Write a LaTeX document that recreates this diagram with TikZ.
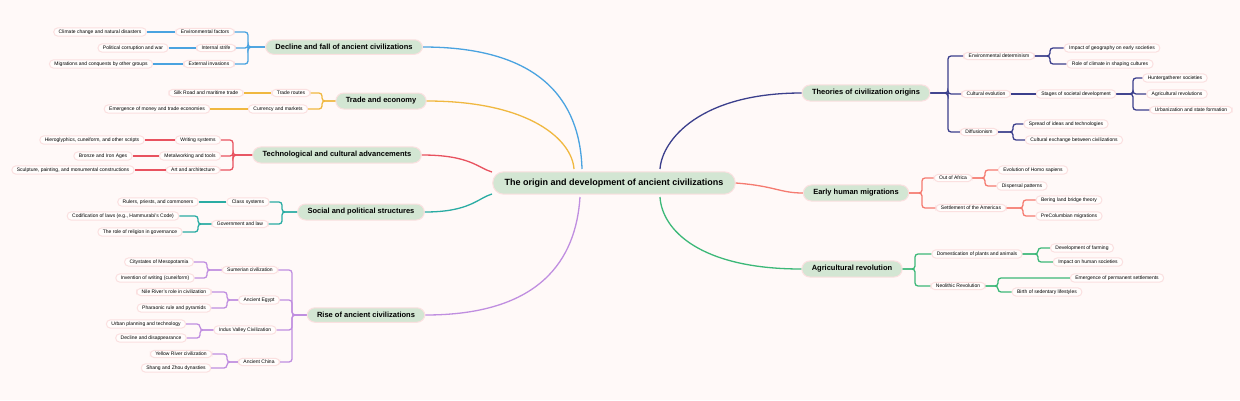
\documentclass[tikz,border=0pt]{standalone}
\usepackage{fontspec}
\setmainfont{Liberation Sans}
\definecolor{bgc}{HTML}{FFF9F8}
\definecolor{edgec}{HTML}{FBE0E0}
\definecolor{topc}{HTML}{D3E6D3}
\definecolor{cdec}{HTML}{4AA3E0}
\definecolor{ctrd}{HTML}{F0B840}
\definecolor{ctec}{HTML}{E8525F}
\definecolor{csoc}{HTML}{2AACA3}
\definecolor{cris}{HTML}{C08EE0}
\definecolor{cthe}{HTML}{3B3F8C}
\definecolor{cear}{HTML}{F57B70}
\definecolor{cagr}{HTML}{3CB878}
\tikzset{
  leaf/.style={draw=edgec, fill=white!60!bgc, line width=1pt, rounded corners=4pt,
    font=\fontsize{5}{6}\selectfont, inner xsep=5pt, inner ysep=1.8pt},
  topic/.style={draw=edgec, fill=topc, line width=1pt, rounded corners=8pt,
    font=\fontsize{7.5}{9}\selectfont\bfseries, inner xsep=10pt, inner ysep=4.5pt},
  link/.style={line width=1.3pt, rounded corners=3pt}
}
% bracket from parent to child, left and right side
\newcommand{\brl}[4]{\draw[link,#1] (#2.west) -- (#2.west -| #3) |- (#4.east);}
\newcommand{\brr}[4]{\draw[link,#1] (#2.east) -- (#2.east -| #3) |- (#4.west);}
\begin{document}
\begin{tikzpicture}[x=1pt,y=-1pt]
  \fill[bgc] (0,0) rectangle (1240,400);
  \useasboundingbox (0,0) rectangle (1240,400);

  \node[draw=edgec, fill=topc, line width=1pt, rounded corners=11pt,
    font=\fontsize{9}{11}\selectfont\bfseries, inner xsep=12pt, inner ysep=7pt]
    (rt) at (614,183) {The origin and development of ancient civilizations};

  % left topics
  \node[topic] (dec) at (344,47) {Decline and fall of ancient civilizations};
  \node[topic] (trd) at (381,101) {Trade and economy};
  \node[topic] (tec) at (337,155) {Technological and cultural advancements};
  \node[topic] (soc) at (361,212) {Social and political structures};
  \node[topic] (ris) at (366,315) {Rise of ancient civilizations};
  % right topics
  \node[topic] (the) at (866,93) {Theories of civilization origins};
  \node[topic] (ear) at (856,193) {Early human migrations};
  \node[topic] (agr) at (852,269) {Agricultural revolution};

  \draw[link,cdec] (dec.east) .. controls (540,47) and (580,100) .. (582,169);
  \draw[link,ctrd] (trd.east) .. controls (530,101) and (572,140) .. (574,169);
  \draw[link,ctec] (tec.east) .. controls (470,155) and (478,168) .. (492,172);
  \draw[link,csoc] (soc.east) .. controls (470,212) and (478,198) .. (492,194);
  \draw[link,cris] (ris.east) .. controls (540,315) and (576,260) .. (580,197);
  \draw[link,cthe] (the.west) .. controls (700,93) and (662,140) .. (660,169);
  \draw[link,cear] (rt.east) .. controls (775,186) and (780,193) .. (ear.west);
  \draw[link,cagr] (agr.west) .. controls (700,269) and (662,230) .. (660,197);

  % decline
  \node[leaf] (d1) at (205,32) {Environmental factors};
  \node[leaf] (d2) at (216,48) {Internal strife};
  \node[leaf] (d3) at (209,64) {External invasions};
  \node[leaf] (d1a) at (100,32) {Climate change and natural disasters};
  \node[leaf] (d2a) at (133,48) {Political corruption and war};
  \node[leaf] (d3a) at (101,64) {Migrations and conquests by other groups};
  \coordinate (bdec) at (248,0);
  \foreach \c in {d1,d2,d3} {\brl{cdec}{dec}{bdec}{\c}}
  \draw[link,cdec] (d1) -- (d1a); \draw[link,cdec] (d2) -- (d2a); \draw[link,cdec] (d3) -- (d3a);

  % trade
  \node[leaf] (t1) at (291,93) {Trade routes};
  \node[leaf] (t2) at (278,109) {Currency and markets};
  \node[leaf] (t1a) at (206,93) {Silk Road and maritime trade};
  \node[leaf] (t2a) at (157,109) {Emergence of money and trade economies};
  \coordinate (btrd) at (322,0);
  \foreach \c in {t1,t2} {\brl{ctrd}{trd}{btrd}{\c}}
  \draw[link,ctrd] (t1) -- (t1a); \draw[link,ctrd] (t2) -- (t2a);

  % technology
  \node[leaf] (c1) at (198,140) {Writing systems};
  \node[leaf] (c2) at (190,156) {Metalworking and tools};
  \node[leaf] (c3) at (193,170) {Art and architecture};
  \node[leaf] (c1a) at (92,140) {Hieroglyphics, cuneiform, and other scripts};
  \node[leaf] (c2a) at (103,156) {Bronze and Iron Ages};
  \node[leaf] (c3a) at (73,170) {Sculpture, painting, and monumental constructions};
  \coordinate (btec) at (233,0);
  \foreach \c in {c1,c2,c3} {\brl{ctec}{tec}{btec}{\c}}
  \draw[link,ctec] (c1) -- (c1a); \draw[link,ctec] (c2) -- (c2a); \draw[link,ctec] (c3) -- (c3a);

  % social
  \node[leaf] (s1) at (248,202) {Class systems};
  \node[leaf] (s2) at (240,224) {Government and law};
  \node[leaf] (s1a) at (158,202) {Rulers, priests, and commoners};
  \node[leaf] (s2a) at (123,216) {Codification of laws (e.g., Hammurabi's Code)};
  \node[leaf] (s2b) at (140,232) {The role of religion in governance};
  \coordinate (bsoc) at (282,0);
  \coordinate (bs2) at (198,0);
  \foreach \c in {s1,s2} {\brl{csoc}{soc}{bsoc}{\c}}
  \draw[link,csoc] (s1) -- (s1a);
  \foreach \c in {s2a,s2b} {\brl{csoc}{s2}{bs2}{\c}}

  % rise
  \node[leaf] (r1) at (250,270) {Sumerian civilization};
  \node[leaf] (r2) at (259,300) {Ancient Egypt};
  \node[leaf] (r3) at (245,330) {Indus Valley Civilization};
  \node[leaf] (r4) at (259,362) {Ancient China};
  \node[leaf] (r1a) at (159,262) {Citystates of Mesopotamia};
  \node[leaf] (r1b) at (155,278) {Invention of writing (cuneiform)};
  \node[leaf] (r2a) at (174,292) {Nile River's role in civilization};
  \node[leaf] (r2b) at (174,308) {Pharaonic rule and pyramids};
  \node[leaf] (r3a) at (146,324) {Urban planning and technology};
  \node[leaf] (r3b) at (151,338) {Decline and disappearance};
  \node[leaf] (r4a) at (181,354) {Yellow River civilization};
  \node[leaf] (r4b) at (176,368) {Shang and Zhou dynasties};
  \coordinate (bris) at (292,0);
  \foreach \c in {r1,r2,r3,r4} {\brl{cris}{ris}{bris}{\c}}
  \coordinate (br1) at (207,0);
  \coordinate (br2) at (227,0);
  \coordinate (br3) at (200,0);
  \coordinate (br4) at (227,0);
  \foreach \p in {1,2,3,4} {\brl{cris}{r\p}{br\p}{r\p a} \brl{cris}{r\p}{br\p}{r\p b}}

  % theories
  \node[leaf] (h1) at (999,56) {Environmental determinism};
  \node[leaf] (h2) at (986,94) {Cultural evolution};
  \node[leaf] (h3) at (979,132) {Diffusionism};
  \node[leaf] (h1a) at (1112,48) {Impact of geography on early societies};
  \node[leaf] (h1b) at (1110,64) {Role of climate in shaping cultures};
  \node[leaf] (h2a) at (1076,94) {Stages of societal development};
  \node[leaf] (h2b) at (1175,78) {Huntergatherer societies};
  \node[leaf] (h2c) at (1177,94) {Agricultural revolutions};
  \node[leaf] (h2d) at (1191,110) {Urbanization and state formation};
  \node[leaf] (h3a) at (1066,124) {Spread of ideas and technologies};
  \node[leaf] (h3b) at (1074,140) {Cultural exchange between civilizations};
  \coordinate (bthe) at (948,0);
  \coordinate (bh1) at (1050,0);
  \coordinate (bh2) at (1133,0);
  \coordinate (bh3) at (1013,0);
  \foreach \c in {h1,h2,h3} {\brr{cthe}{the}{bthe}{\c}}
  \foreach \c in {h1a,h1b} {\brr{cthe}{h1}{bh1}{\c}}
  \draw[link,cthe] (h2) -- (h2a);
  \foreach \c in {h2b,h2c,h2d} {\brr{cthe}{h2a}{bh2}{\c}}
  \foreach \c in {h3a,h3b} {\brr{cthe}{h3}{bh3}{\c}}

  % migrations
  \node[leaf] (m1) at (953,178) {Out of Africa};
  \node[leaf] (m2) at (971,208) {Settlement of the Americas};
  \node[leaf] (m1a) at (1033,170) {Evolution of Homo sapiens};
  \node[leaf] (m1b) at (1022,186) {Dispersal patterns};
  \node[leaf] (m2a) at (1069,200) {Bering land bridge theory};
  \node[leaf] (m2b) at (1069,216) {PreColumbian migrations};
  \coordinate (bear) at (922,0);
  \coordinate (bm1) at (985,0);
  \coordinate (bm2) at (1023,0);
  \foreach \c in {m1,m2} {\brr{cear}{ear}{bear}{\c}}
  \foreach \c in {m1a,m1b} {\brr{cear}{m1}{bm1}{\c}}
  \foreach \c in {m2a,m2b} {\brr{cear}{m2}{bm2}{\c}}

  % agriculture
  \node[leaf] (g1) at (977,254) {Domestication of plants and animals};
  \node[leaf] (g2) at (958,286) {Neolithic Revolution};
  \node[leaf] (g1a) at (1082,248) {Development of farming};
  \node[leaf] (g1b) at (1088,262) {Impact on human societies};
  \node[leaf] (g2a) at (1117,278) {Emergence of permanent settlements};
  \node[leaf] (g2b) at (1047,292) {Birth of sedentary lifestyles};
  \coordinate (bagr) at (915,0);
  \coordinate (bg1) at (1038,0);
  \coordinate (bg2) at (998,0);
  \foreach \c in {g1,g2} {\brr{cagr}{agr}{bagr}{\c}}
  \foreach \c in {g1a,g1b} {\brr{cagr}{g1}{bg1}{\c}}
  \foreach \c in {g2a,g2b} {\brr{cagr}{g2}{bg2}{\c}}
\end{tikzpicture}
\end{document}
